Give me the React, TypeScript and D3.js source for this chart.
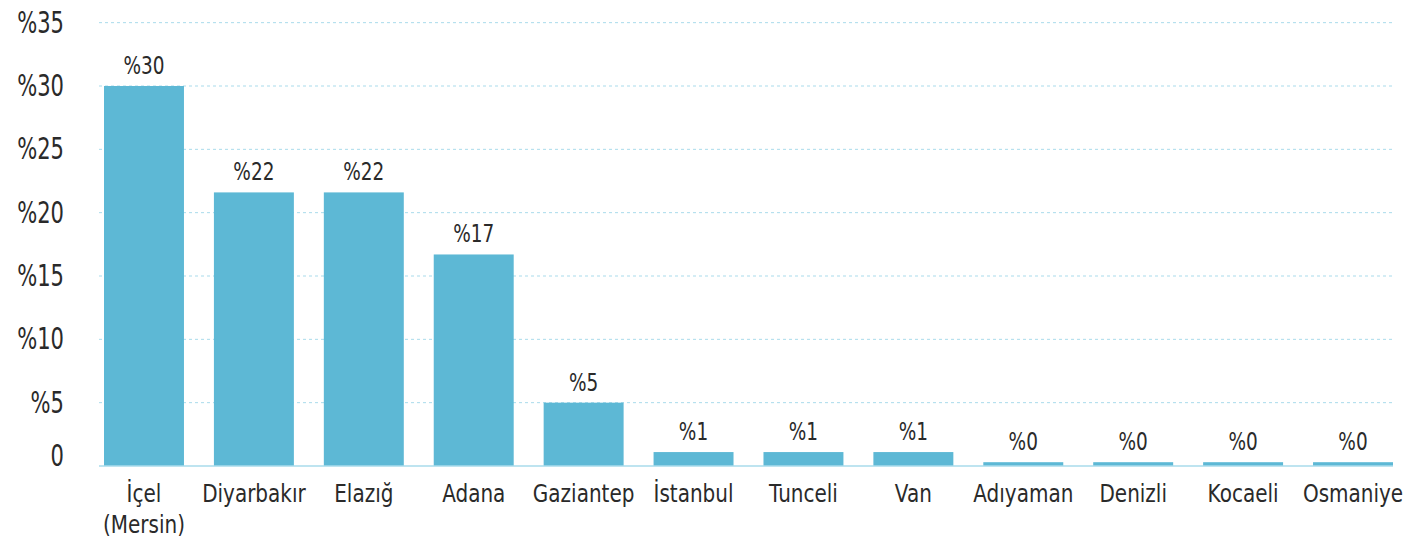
import React from "react";
import * as d3 from "d3";

const categories = ["İçel\n(Mersin)", "Diyarbakır", "Elazığ", "Adana", "Gaziantep", "İstanbul", "Tunceli", "Van", "Adıyaman", "Denizli", "Kocaeli", "Osmaniye"];
const values = [30, 21.6, 21.6, 16.7, 5.0, 1.1, 1.1, 1.1, 0.3, 0.3, 0.3, 0.3];
const valueLabels = ["%30", "%22", "%22", "%17", "%5", "%1", "%1", "%1", "%0", "%0", "%0", "%0"];
const yTicks = [0, 5, 10, 15, 20, 25, 30, 35];
const yTickLabels = ["0", "%5", "%10", "%15", "%20", "%25", "%30", "%35"];

const W = 1405;
const H = 546;
const FONT = "'DejaVu Sans', sans-serif";
const BAR = "#5db8d5";
const GRID = "#a9dbeb";
const TEXT = "#2a2a2a";

function NarrowText(props: { x: number; y: number; sx: number; size: number; anchor: string; baseline?: string; children: React.ReactNode }) {
  return (
    <g transform={`translate(${props.x},${props.y}) scale(${props.sx},1)`}>
      <text x={0} y={0} textAnchor={props.anchor as any} dominantBaseline={props.baseline as any} fontSize={props.size} fill={TEXT}>
        {props.children}
      </text>
    </g>
  );
}

export default function App() {
  const x = d3.scaleBand<string>().domain(categories).range([89, 1408]).paddingInner(0.2725).paddingOuter(0.1365);
  const y = d3.scaleLinear().domain([0, 30]).range([466, 86]);
  const gx0 = 99;
  const gx1 = 1393;
  const cx = (c: string) => (x(c) as number) + x.bandwidth() / 2;

  return (
    <svg width={W} height={H} style={{ position: "absolute", left: 0, top: 0, background: "#fff" }} fontFamily={FONT}>
      {yTicks.filter((t) => t > 0).map((t) => (
        <line key={"g" + t} x1={gx0} x2={gx1} y1={y(t)} y2={y(t)} stroke={GRID} strokeWidth={1} strokeDasharray="3,3" />
      ))}
      {yTicks.map((t, i) => (
        <NarrowText key={"yl" + t} x={64} y={t === 0 ? y(t) - 11 : y(t) - 1} sx={0.68} size={31} anchor="end" baseline="central">
          {yTickLabels[i]}
        </NarrowText>
      ))}
      {categories.map((c, i) => (
        <rect key={"b" + i} x={x(c)} y={y(values[i])} width={x.bandwidth()} height={y(0) - y(values[i])} fill={BAR} />
      ))}
      <line x1={gx0} x2={gx1} y1={y(0)} y2={y(0)} stroke={GRID} strokeWidth={1.5} />
      {categories.map((c, i) => (
        <NarrowText key={"v" + i} x={cx(c)} y={y(values[i]) - 12} sx={0.74} size={25} anchor="middle">
          {valueLabels[i]}
        </NarrowText>
      ))}
      {categories.map((c, i) =>
        c.split("\n").map((line, j) => (
          <NarrowText key={"c" + i + "_" + j} x={cx(c)} y={502 + j * 31} sx={0.8} size={25} anchor="middle">
            {line}
          </NarrowText>
        ))
      )}
    </svg>
  );
}
